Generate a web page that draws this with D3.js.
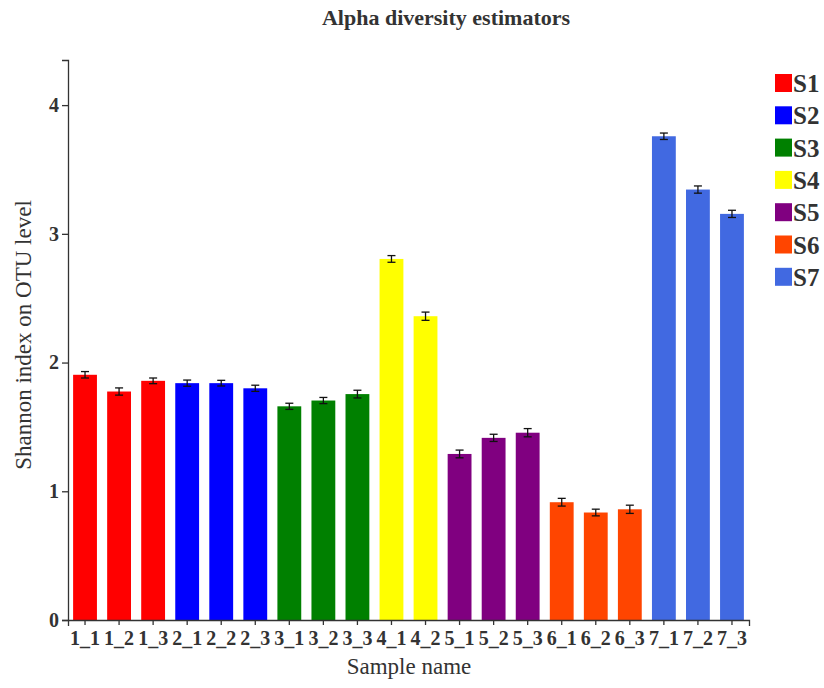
<!DOCTYPE html>
<html>
<head>
<meta charset="utf-8">
<script src="https://cdn.jsdelivr.net/npm/d3@7"></script>
<style>
  html, body { margin: 0; padding: 0; background: #fff; }
  svg { display: block; font-family: "Liberation Serif", "Times New Roman", serif; }
</style>
</head>
<body>
<svg id="chart" width="824" height="688"></svg>
<script>
// Shannon index per sample, with standard error
const samples = ["1_1","1_2","1_3","2_1","2_2","2_3","3_1","3_2","3_3","4_1","4_2",
                 "5_1","5_2","5_3","6_1","6_2","6_3","7_1","7_2","7_3"];
const groupOf = ["S1","S1","S1","S2","S2","S2","S3","S3","S3","S4","S4",
                 "S5","S5","S5","S6","S6","S6","S7","S7","S7"];
const shannon = [1.905,1.775,1.858,1.840,1.840,1.800,1.660,1.705,1.755,2.805,2.360,
                 1.290,1.415,1.455,0.915,0.835,0.860,3.758,3.344,3.155];
const stdErr  = [0.025,0.028,0.022,0.024,0.022,0.024,0.024,0.024,0.030,0.026,0.032,
                 0.030,0.028,0.032,0.030,0.026,0.032,0.025,0.028,0.028];
const groups = ["S1","S2","S3","S4","S5","S6","S7"];
const groupColors = ["#FF0000","#0000FF","#008000","#FFFF00","#800080","#FF4500","#4169E1"];
const yTicks = [0, 1, 2, 3, 4];

const svg = d3.select("#chart");
const margin = {left: 68, right: 749, top: 60, bottom: 620};

const x = d3.scaleBand()
  .domain(samples)
  .range([margin.left, margin.right])
  .paddingInner(0.3)
  .paddingOuter(0.15);

const yMax = d3.max(shannon.map((v, i) => v + stdErr[i])) * 1.15;
const y = d3.scaleLinear().domain([0, yMax]).range([margin.bottom, margin.top]);
const color = d3.scaleOrdinal().domain(groups).range(groupColors);

// bars
svg.append("g").selectAll("rect")
  .data(samples)
  .join("rect")
  .attr("x", d => x(d))
  .attr("width", x.bandwidth())
  .attr("y", (d, i) => y(shannon[i]))
  .attr("height", (d, i) => y(0) - y(shannon[i]))
  .attr("fill", (d, i) => color(groupOf[i]));

// error bars
const eb = svg.append("g").attr("stroke", "#111").attr("stroke-width", 1.3).attr("fill", "none");
samples.forEach((s, i) => {
  const cx = x(s) + x.bandwidth() / 2;
  const top = y(shannon[i] + stdErr[i]);
  const bot = y(shannon[i] - stdErr[i]);
  eb.append("line").attr("x1", cx).attr("x2", cx).attr("y1", top).attr("y2", bot);
  eb.append("line").attr("x1", cx - 4).attr("x2", cx + 4).attr("y1", top).attr("y2", top);
  eb.append("line").attr("x1", cx - 4).attr("x2", cx + 4).attr("y1", bot).attr("y2", bot);
});

// axes
const xAxis = svg.append("g")
  .attr("transform", `translate(0,${margin.bottom})`)
  .call(d3.axisBottom(x).tickSize(5).tickSizeOuter(6));
xAxis.selectAll("text")
  .attr("font-family", "Liberation Serif, serif")
  .attr("font-size", 20).attr("font-weight", "bold").attr("fill", "#333")
  .attr("y", 11);

const yAxis = svg.append("g")
  .attr("transform", `translate(${margin.left},0)`)
  .call(d3.axisLeft(y).tickValues(yTicks).tickFormat(d3.format("d")).tickSize(6).tickSizeOuter(6));
yAxis.selectAll("text")
  .attr("font-family", "Liberation Serif, serif")
  .attr("font-size", 20).attr("font-weight", "bold").attr("fill", "#333");
svg.selectAll(".domain, .tick line").attr("stroke", "#333").attr("stroke-width", 1.3);

// titles
svg.append("text")
  .attr("x", 446).attr("y", 25)
  .attr("text-anchor", "middle")
  .attr("font-size", 22).attr("font-weight", "bold").attr("fill", "#333")
  .text("Alpha diversity estimators");

svg.append("text")
  .attr("x", 409).attr("y", 674)
  .attr("text-anchor", "middle")
  .attr("font-size", 23).attr("fill", "#333")
  .text("Sample name");

svg.append("text")
  .attr("transform", `translate(31,335) rotate(-90)`)
  .attr("text-anchor", "middle")
  .attr("font-size", 23).attr("fill", "#333")
  .text("Shannon index on OTU level");

// legend
const legend = svg.append("g").attr("transform", "translate(775,74)");
groups.forEach((g, i) => {
  const row = legend.append("g").attr("transform", `translate(0,${i * 32.3})`);
  row.append("rect").attr("width", 17).attr("height", 18).attr("fill", color(g));
  row.append("text").attr("x", 18).attr("y", 18)
    .attr("font-size", 25).attr("font-weight", "bold").attr("fill", "#333")
    .text(g);
});
</script>
</body>
</html>
